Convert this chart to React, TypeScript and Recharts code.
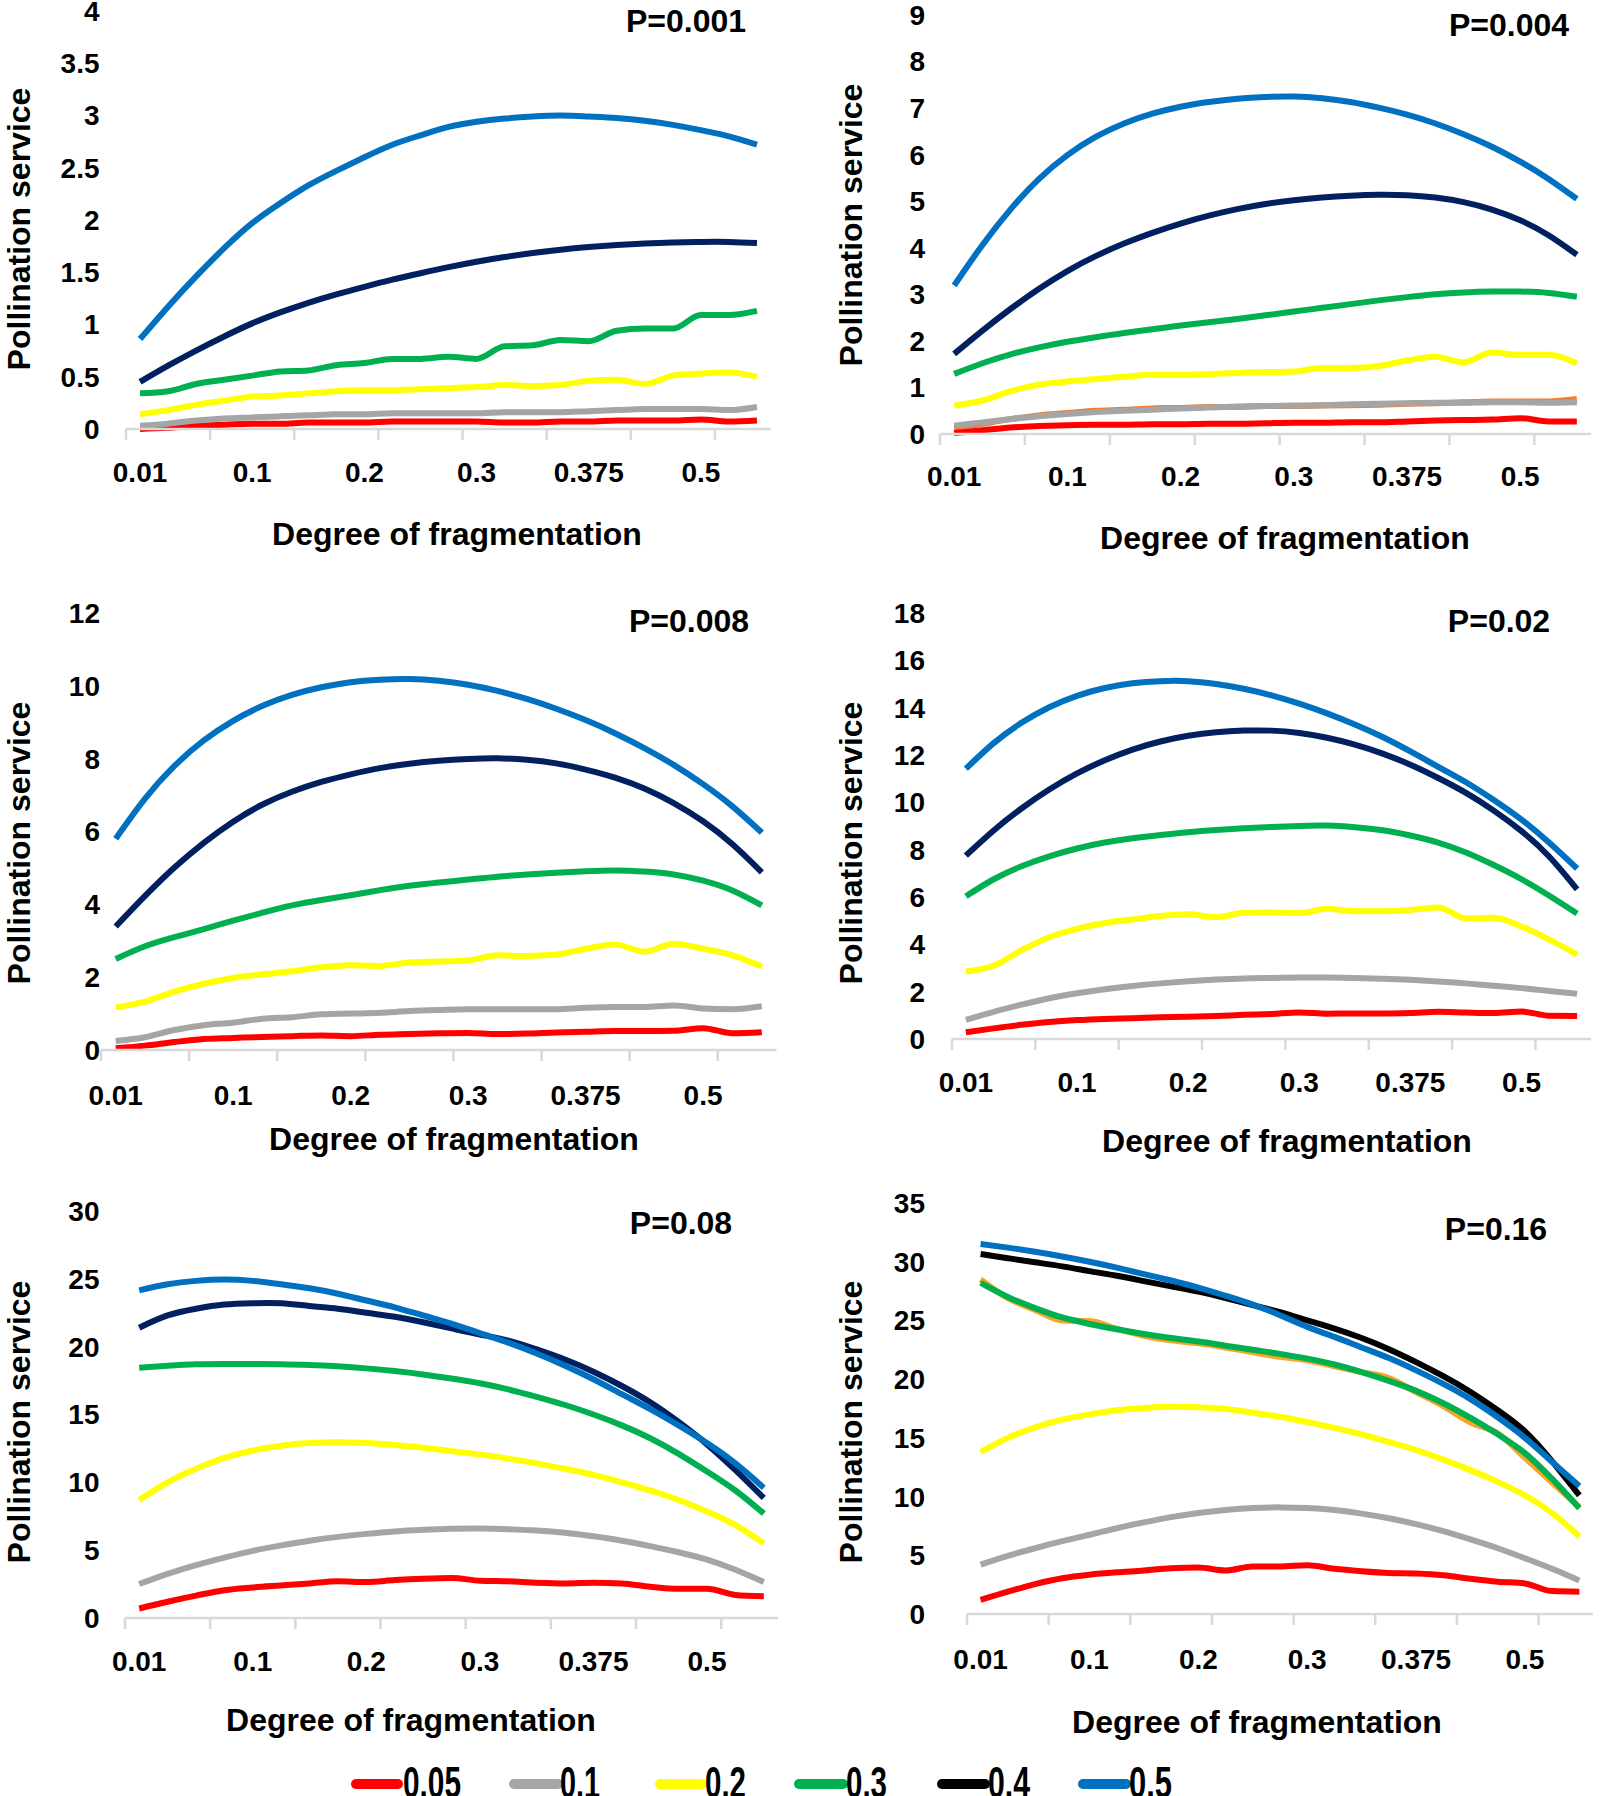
import React from 'react';
import { LineChart, Line, XAxis, YAxis } from 'recharts';

// x categories: 23 fragmentation steps, labelled every 4th
const fragLabels = ['0.01', '0.1', '0.2', '0.3', '0.375', '0.5'];
const labelIdx = [0, 4, 8, 12, 16, 20];
const tickBounds = [-0.5, 2.5, 5.5, 8.5, 11.5, 14.5, 17.5, 20.5];

const seriesNames = ['0.05', '0.1', '0.2', '0.3', '0.4', '0.5'];
const seriesKeys = ['r05', 'r1', 'r2', 'r3', 'r4', 'r5'];

// P=0.001
const p001_05 = [0.0, 0.01, 0.03, 0.04, 0.05, 0.05, 0.06, 0.06, 0.06, 0.07, 0.07, 0.07, 0.07, 0.06, 0.06, 0.07, 0.07, 0.08, 0.08, 0.08, 0.09, 0.07, 0.08];
const p001_1 = [0.03, 0.05, 0.08, 0.1, 0.11, 0.12, 0.13, 0.14, 0.14, 0.15, 0.15, 0.15, 0.15, 0.16, 0.16, 0.16, 0.17, 0.18, 0.19, 0.19, 0.19, 0.18, 0.21];
const p001_2 = [0.14, 0.18, 0.23, 0.27, 0.31, 0.32, 0.34, 0.36, 0.37, 0.37, 0.38, 0.39, 0.4, 0.42, 0.41, 0.42, 0.46, 0.47, 0.43, 0.51, 0.53, 0.54, 0.5];
const p001_3 = [0.34, 0.36, 0.43, 0.47, 0.51, 0.55, 0.56, 0.61, 0.63, 0.67, 0.67, 0.69, 0.67, 0.79, 0.8, 0.85, 0.84, 0.94, 0.96, 0.96, 1.09, 1.09, 1.13];
const p001_4 = [0.45, 0.605, 0.75, 0.885, 1.01, 1.115, 1.207, 1.288, 1.36, 1.428, 1.49, 1.548, 1.6, 1.645, 1.683, 1.715, 1.74, 1.76, 1.775, 1.785, 1.79, 1.79, 1.78];
const p001_5 = [0.86, 1.17, 1.46, 1.73, 1.97, 2.16, 2.33, 2.47, 2.6, 2.72, 2.81, 2.89, 2.94, 2.97, 2.99, 3.0, 2.99, 2.975, 2.95, 2.91, 2.86, 2.8, 2.72];

// P=0.004
const p004_05 = [0.02, 0.08, 0.14, 0.17, 0.19, 0.2, 0.2, 0.21, 0.21, 0.22, 0.22, 0.23, 0.24, 0.24, 0.25, 0.25, 0.27, 0.29, 0.3, 0.31, 0.34, 0.27, 0.27];
const p004_1 = [0.18, 0.25, 0.32, 0.38, 0.43, 0.47, 0.5, 0.52, 0.55, 0.57, 0.59, 0.6, 0.61, 0.62, 0.64, 0.65, 0.66, 0.67, 0.67, 0.68, 0.68, 0.67, 0.68];
const p004_2 = [0.61, 0.72, 0.92, 1.06, 1.13, 1.18, 1.23, 1.27, 1.27, 1.29, 1.31, 1.33, 1.34, 1.42, 1.42, 1.46, 1.58, 1.66, 1.54, 1.75, 1.7, 1.7, 1.52];
const p004_3 = [1.29, 1.52, 1.71, 1.86, 1.98, 2.08, 2.17, 2.25, 2.33, 2.4, 2.47, 2.55, 2.63, 2.71, 2.79, 2.87, 2.94, 3.0, 3.04, 3.06, 3.06, 3.03, 2.95];
const p004_4 = [1.72, 2.22, 2.69, 3.12, 3.5, 3.82, 4.09, 4.32, 4.52, 4.69, 4.83, 4.94, 5.02, 5.08, 5.12, 5.14, 5.13, 5.08, 4.98, 4.82, 4.59, 4.27, 3.85];
const p004_5 = [3.19, 4.06, 4.83, 5.48, 5.99, 6.38, 6.67, 6.88, 7.03, 7.13, 7.2, 7.24, 7.25, 7.21, 7.13, 7.01, 6.86, 6.67, 6.44, 6.17, 5.85, 5.48, 5.05];
const p004_hidden = [0.12, 0.22, 0.32, 0.4, 0.45, 0.5, 0.52, 0.55, 0.56, 0.58, 0.58, 0.6, 0.6, 0.61, 0.62, 0.63, 0.65, 0.66, 0.68, 0.7, 0.7, 0.7, 0.75];

// P=0.008
const p008_05 = [0.05, 0.12, 0.22, 0.3, 0.33, 0.36, 0.38, 0.4, 0.38, 0.42, 0.44, 0.46, 0.47, 0.44, 0.45, 0.48, 0.5, 0.52, 0.52, 0.53, 0.6, 0.46, 0.49];
const p008_1 = [0.25, 0.35, 0.55, 0.68, 0.75, 0.86, 0.9, 0.98, 1.0, 1.02, 1.07, 1.1, 1.12, 1.12, 1.12, 1.12, 1.16, 1.18, 1.18, 1.22, 1.14, 1.12, 1.2];
const p008_2 = [1.17, 1.33, 1.6, 1.82, 1.98, 2.08, 2.16, 2.27, 2.33, 2.31, 2.4, 2.43, 2.46, 2.6, 2.58, 2.62, 2.78, 2.9, 2.7, 2.92, 2.78, 2.6, 2.29];
const p008_3 = [2.5, 2.85, 3.1, 3.32, 3.55, 3.77, 3.97, 4.12, 4.25, 4.39, 4.51, 4.6, 4.68, 4.76, 4.82, 4.87, 4.91, 4.93, 4.9, 4.82, 4.65, 4.38, 3.97];
const p008_4 = [3.39, 4.23, 5.01, 5.69, 6.27, 6.74, 7.09, 7.36, 7.57, 7.74, 7.86, 7.94, 7.99, 8.01, 7.97, 7.87, 7.7, 7.48, 7.18, 6.78, 6.28, 5.65, 4.88];
const p008_5 = [5.8, 6.9, 7.8, 8.5, 9.04, 9.45, 9.75, 9.96, 10.1, 10.17, 10.19, 10.14, 10.03, 9.86, 9.64, 9.37, 9.06, 8.7, 8.29, 7.83, 7.3, 6.69, 5.97];

// P=0.02
const p02_05 = [0.28, 0.45, 0.6, 0.72, 0.8, 0.85, 0.88, 0.92, 0.94, 0.97, 1.02, 1.06, 1.12, 1.07, 1.08, 1.08, 1.1, 1.15, 1.12, 1.1, 1.16, 0.98, 0.97];
const p02_1 = [0.81, 1.15, 1.45, 1.72, 1.93, 2.1, 2.24, 2.35, 2.44, 2.51, 2.56, 2.58, 2.6, 2.6, 2.58, 2.55, 2.5, 2.43, 2.35, 2.25, 2.15, 2.03, 1.91];
const p02_2 = [2.85, 3.1, 3.75, 4.3, 4.65, 4.9, 5.05, 5.2, 5.27, 5.15, 5.33, 5.35, 5.32, 5.5, 5.4, 5.4, 5.45, 5.56, 5.1, 5.12, 4.75, 4.2, 3.57];
const p02_3 = [6.03, 6.75, 7.3, 7.72, 8.05, 8.3, 8.48, 8.62, 8.74, 8.83, 8.9, 8.96, 9.0, 9.02, 8.95, 8.82, 8.6, 8.3, 7.88, 7.35, 6.75, 6.05, 5.3];
const p02_4 = [7.75, 8.81, 9.74, 10.54, 11.22, 11.78, 12.23, 12.57, 12.81, 12.96, 13.03, 13.03, 12.93, 12.73, 12.44, 12.06, 11.59, 11.03, 10.4, 9.65, 8.78, 7.7, 6.32];
const p02_5 = [11.42, 12.5, 13.36, 14.02, 14.5, 14.83, 15.03, 15.12, 15.12, 15.0, 14.8, 14.52, 14.17, 13.76, 13.29, 12.76, 12.15, 11.5, 10.85, 10.1, 9.27, 8.29, 7.2];

// P=0.08
const p08_05 = [0.7, 1.2, 1.65, 2.05, 2.25, 2.4, 2.55, 2.7, 2.65, 2.8, 2.9, 2.95, 2.75, 2.7, 2.6, 2.55, 2.6, 2.55, 2.3, 2.15, 2.15, 1.7, 1.6];
const p08_1 = [2.5, 3.25, 3.9, 4.45, 4.95, 5.35, 5.7, 5.98, 6.2, 6.38, 6.5, 6.58, 6.6, 6.55, 6.45, 6.28, 6.02, 5.7, 5.3, 4.85, 4.3, 3.55, 2.65];
const p08_2 = [8.7, 10.0, 11.0, 11.8, 12.35, 12.7, 12.9, 12.95, 12.9, 12.75, 12.55, 12.3, 12.05, 11.75, 11.4, 11.0, 10.55, 10.0, 9.4, 8.7, 7.85, 6.85, 5.5];
const p08_3 = [18.45, 18.6, 18.7, 18.72, 18.72, 18.7, 18.65, 18.55, 18.4, 18.2, 17.95, 17.65, 17.3, 16.85, 16.3, 15.7, 15.0, 14.2, 13.25, 12.1, 10.8, 9.4, 7.7];
const p08_4 = [21.4, 22.3, 22.8, 23.1, 23.2, 23.2, 23.0, 22.8, 22.5, 22.2, 21.8, 21.35, 20.9, 20.45, 19.8, 19.05, 18.15, 17.1, 15.9, 14.45, 12.8, 10.9, 8.85];
const p08_5 = [24.15, 24.6, 24.85, 24.95, 24.85, 24.6, 24.3, 23.9, 23.4, 22.9, 22.3, 21.7, 21.0, 20.3, 19.5, 18.6, 17.6, 16.5, 15.4, 14.2, 12.9, 11.4, 9.6];

// P=0.16
const p16_05 = [1.2, 1.9, 2.55, 3.05, 3.35, 3.55, 3.7, 3.9, 3.95, 3.7, 4.05, 4.05, 4.15, 3.85, 3.65, 3.5, 3.45, 3.3, 3.0, 2.75, 2.6, 1.95, 1.9];
const p16_1 = [4.2, 4.95, 5.6, 6.2, 6.75, 7.3, 7.8, 8.25, 8.6, 8.85, 9.02, 9.08, 9.02, 8.85, 8.55, 8.15, 7.65, 7.05, 6.35, 5.6, 4.75, 3.85, 2.85];
const p16_2 = [13.8, 15.0, 15.9, 16.55, 17.0, 17.35, 17.55, 17.65, 17.6, 17.45, 17.15, 16.8, 16.35, 15.85, 15.3, 14.65, 13.95, 13.15, 12.25, 11.25, 10.1, 8.6, 6.6];
const p16_3 = [28.2, 27.0, 26.05, 25.25, 24.7, 24.25, 23.85, 23.5, 23.2, 22.85, 22.5, 22.15, 21.75, 21.25, 20.6, 19.85, 19.0, 17.95, 16.7, 15.3, 13.7, 11.5, 9.0];
const p16_4 = [30.65, 30.3, 29.95, 29.6, 29.2, 28.8, 28.35, 27.9, 27.45, 26.9, 26.3, 25.7, 25.0, 24.3, 23.5, 22.55, 21.45, 20.25, 18.9, 17.35, 15.55, 13.0, 10.1];
const p16_5 = [31.5, 31.2, 30.85, 30.45, 30.0, 29.5, 28.95, 28.4, 27.8, 27.1, 26.35, 25.45, 24.45, 23.6, 22.7, 21.8, 20.75, 19.6, 18.3, 16.75, 15.0, 12.95, 10.9];
const p16_hidden = [28.5, 26.9, 25.9, 25.0, 24.95, 24.3, 23.7, 23.3, 23.05, 22.7, 22.3, 21.9, 21.6, 21.1, 20.6, 20.1, 18.9, 17.7, 16.3, 15.4, 13.3, 11.2, 9.1];

const yTicks001 = [0, 0.5, 1, 1.5, 2, 2.5, 3, 3.5, 4];
const yTicks004 = [0, 1, 2, 3, 4, 5, 6, 7, 8, 9];
const yTicks008 = [0, 2, 4, 6, 8, 10, 12];
const yTicks02 = [0, 2, 4, 6, 8, 10, 12, 14, 16, 18];
const yTicks08 = [0, 5, 10, 15, 20, 25, 30];
const yTicks16 = [0, 5, 10, 15, 20, 25, 30, 35];

const colors = ['#ff0000', '#a5a5a5', '#ffff00', '#00b050', '#002060', '#0070c0'];
const legendColors = ['#ff0000', '#a5a5a5', '#ffff00', '#00b050', '#000000', '#0070c0'];

// "jagged" = series indexes drawn with monotone (no overshoot); others use a natural spline
const panels = [
  { title: 'P=0.001', series: [p001_05, p001_1, p001_2, p001_3, p001_4, p001_5], hidden: null, hiddenColor: '', yTicks: yTicks001, c4: '#002060', jagged: [0, 1, 2, 3] },
  { title: 'P=0.004', series: [p004_05, p004_1, p004_2, p004_3, p004_4, p004_5], hidden: p004_hidden, hiddenColor: '#ed7d31', yTicks: yTicks004, c4: '#002060', jagged: [0, 1, 2] },
  { title: 'P=0.008', series: [p008_05, p008_1, p008_2, p008_3, p008_4, p008_5], hidden: null, hiddenColor: '', yTicks: yTicks008, c4: '#002060', jagged: [0, 1, 2] },
  { title: 'P=0.02', series: [p02_05, p02_1, p02_2, p02_3, p02_4, p02_5], hidden: null, hiddenColor: '', yTicks: yTicks02, c4: '#002060', jagged: [0, 2] },
  { title: 'P=0.08', series: [p08_05, p08_1, p08_2, p08_3, p08_4, p08_5], hidden: null, hiddenColor: '', yTicks: yTicks08, c4: '#002060', jagged: [0] },
  { title: 'P=0.16', series: [p16_05, p16_1, p16_2, p16_3, p16_4, p16_5], hidden: p16_hidden, hiddenColor: '#f5a623', yTicks: yTicks16, c4: '#000000', jagged: [0, 3] },
];

// page geometry of each plot area
const geom = [
  { pl: 126, pr: 771, pt: 10.7, pb: 428.6, gap: 26.5, xdy: 44, xt: [457, 534], yt: [19, 229], pp: [686, 21] },
  { pl: 940, pr: 1591, pt: 14.5, pb: 433.5, gap: 15, xdy: 42.5, xt: [1285, 538], yt: [851, 225], pp: [1509, 25] },
  { pl: 100.5, pr: 776, pt: 613, pb: 1050, gap: 1, xdy: 45, xt: [454, 1139], yt: [19, 843], pp: [689, 621] },
  { pl: 952, pr: 1591, pt: 613, pb: 1039, gap: 27, xdy: 43, xt: [1287, 1141], yt: [851, 843], pp: [1499, 621] },
  { pl: 125, pr: 778, pt: 1211, pb: 1618, gap: 25.5, xdy: 43, xt: [411, 1720], yt: [19, 1422], pp: [681, 1223] },
  { pl: 967, pr: 1593, pt: 1203, pb: 1614, gap: 42, xdy: 45, xt: [1257, 1722], yt: [851, 1422], pp: [1496, 1229] },
];

const FONT = "'Liberation Sans', Arial, sans-serif";
const AXIS_GRAY = '#d9d9d9';
const Y_W = 80;
const X_H = 60;
const TOP = 30;

const xTicks = [...tickBounds, ...labelIdx].sort((a, b) => a - b);

const XTick = (props: any) => {
  const { x, y, payload, dy } = props;
  const v = payload.value;
  const li = labelIdx.indexOf(v);
  if (li >= 0) {
    return (
      <text x={x} y={y + dy} textAnchor="middle" dominantBaseline="central" fontSize={28} fontWeight={700} fill="#000">
        {fragLabels[li]}
      </text>
    );
  }
  return <line x1={x} x2={x} y1={y} y2={y + 11} stroke={AXIS_GRAY} strokeWidth={2.5} />;
};

const titleStyle: React.CSSProperties = {
  position: 'absolute',
  fontSize: 32,
  fontWeight: 700,
  whiteSpace: 'nowrap',
  lineHeight: 1,
};

const Panel = ({ p, g }: { p: typeof panels[number]; g: typeof geom[number] }) => {
  const data = p.series[0].map((_, k) => {
    const row: any = { k };
    p.series.forEach((s, i) => (row[seriesKeys[i]] = s[k]));
    if (p.hidden) row.hid = p.hidden[k];
    return row;
  });
  const lineColors = colors.map((c, i) => (i === 4 ? p.c4 : c));
  const yMax = p.yTicks[p.yTicks.length - 1];
  return (
    <>
      <div style={{ position: 'absolute', left: g.pl - Y_W, top: g.pt - TOP }}>
        <LineChart
          width={g.pr - g.pl + Y_W + 5}
          height={g.pb - g.pt + TOP + X_H}
          data={data}
          margin={{ top: TOP, right: 5, left: 0, bottom: 0 }}
        >
          <XAxis
            dataKey="k"
            type="number"
            domain={[-0.5, 22.5]}
            ticks={xTicks}
            interval={0}
            height={X_H}
            tickSize={0}
            tickMargin={0}
            tickLine={false}
            axisLine={{ stroke: AXIS_GRAY, strokeWidth: 2.5 }}
            tick={(tp: any) => <XTick {...tp} dy={g.xdy} />}
          />
          <YAxis
            type="number"
            domain={[0, yMax]}
            ticks={p.yTicks}
            interval={0}
            width={Y_W}
            tickSize={0}
            tickMargin={g.gap}
            axisLine={false}
            tickLine={false}
            tick={{ fill: '#000', fontSize: 28, fontWeight: 700 }}
          />
          {p.hidden && (
            <Line dataKey="hid" type="monotone" stroke={p.hiddenColor} strokeWidth={6} dot={false} activeDot={false} isAnimationActive={false} />
          )}
          {seriesKeys.map((key, i) => (
            <Line
              key={key}
              dataKey={key}
              name={seriesNames[i]}
              type={p.jagged.includes(i) ? 'monotone' : 'natural'}
              stroke={lineColors[i]}
              strokeWidth={6}
              dot={false}
              activeDot={false}
              isAnimationActive={false}
            />
          ))}
        </LineChart>
      </div>
      <div style={{ ...titleStyle, left: g.xt[0], top: g.xt[1], transform: 'translate(-50%, -50%)' }}>
        Degree of fragmentation
      </div>
      <div style={{ ...titleStyle, left: g.yt[0], top: g.yt[1], transform: 'translate(-50%, -50%) rotate(-90deg)' }}>
        Pollination service
      </div>
      <div style={{ ...titleStyle, left: g.pp[0], top: g.pp[1], transform: 'translate(-50%, -50%)' }}>
        {p.title}
      </div>
    </>
  );
};

// legend swatch / label positions on the page
const legendItems = [
  { x1: 356, x2: 398, tx: 403, tw: 58 },
  { x1: 514, x2: 558, tx: 560, tw: 40 },
  { x1: 660, x2: 702, tx: 705, tw: 41 },
  { x1: 799, x2: 843, tx: 846, tw: 41 },
  { x1: 942, x2: 985, tx: 988, tw: 42 },
  { x1: 1083, x2: 1126, tx: 1129, tw: 43 },
];

export default function App() {
  return (
    <div style={{ position: 'absolute', left: 0, top: 0, width: 1600, height: 1796, overflow: 'hidden', background: '#fff', fontFamily: FONT, color: '#000' }}>
      {panels.map((p, i) => (
        <Panel key={p.title} p={p} g={geom[i]} />
      ))}
      <svg style={{ position: 'absolute', left: 0, top: 1736 }} width={1600} height={60}>
        {legendItems.map((it, i) => (
          <g key={i}>
            <line x1={it.x1} x2={it.x2} y1={48} y2={48} stroke={legendColors[i]} strokeWidth={10} strokeLinecap="round" />
            <text x={it.tx} y={62} fontSize={44} fontWeight={700} fill="#000" textLength={it.tw} lengthAdjust="spacingAndGlyphs" style={{ fontFamily: FONT }}>
              {seriesNames[i]}
            </text>
          </g>
        ))}
      </svg>
    </div>
  );
}
